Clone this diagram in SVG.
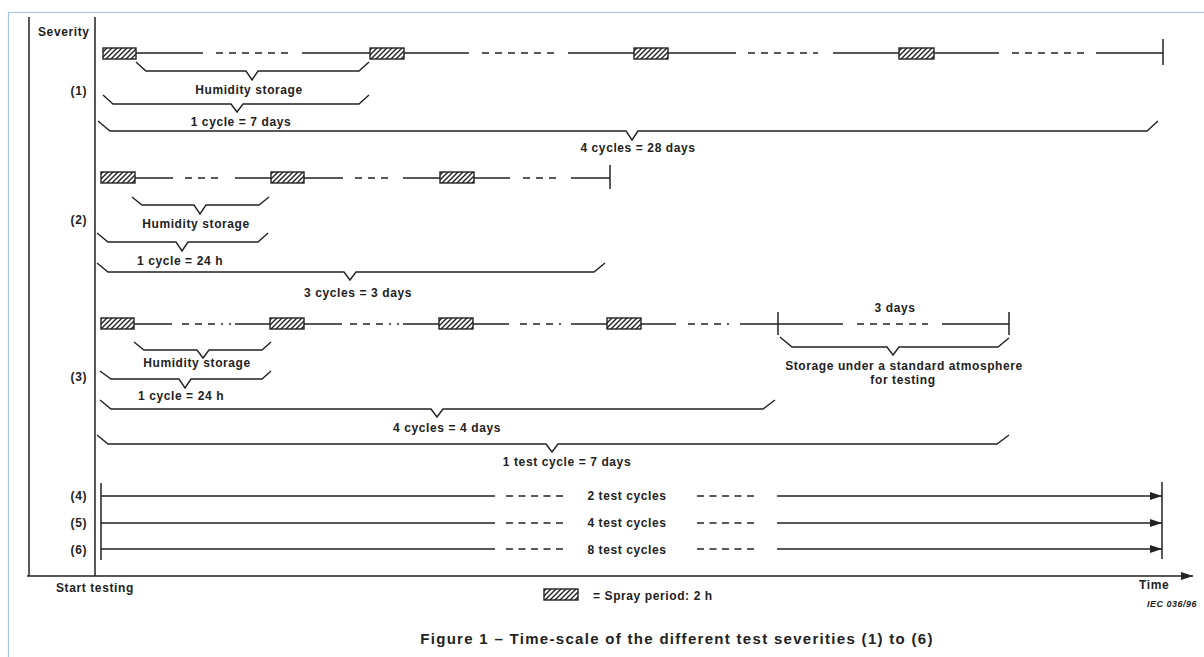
<svg xmlns="http://www.w3.org/2000/svg" width="1204" height="657" viewBox="0 0 1204 657">
<style>
.ln{stroke:#222;stroke-width:1.5;fill:none}
.ds{stroke-dasharray:7 6}
.ds5{stroke-dasharray:7 5.5}
.br{stroke:#222;stroke-width:1.4;fill:none;stroke-linejoin:miter}
.box{fill:url(#hatch);stroke:#222;stroke-width:1.4}
.t{font-family:"Liberation Sans",Arial,sans-serif;font-size:12px;font-weight:bold;fill:#222;letter-spacing:0.6px}
.m{text-anchor:middle}
.e{text-anchor:end}
</style>
<defs>
<pattern id="hatch" patternUnits="userSpaceOnUse" width="5" height="5">
<rect width="5" height="5" fill="#fff"/>
<path d="M-1,1 L1,-1 M0,5 L5,0 M4,6 L6,4" stroke="#222" stroke-width="1.4"/>
</pattern>
<marker id="arr" markerUnits="userSpaceOnUse" markerWidth="13" markerHeight="8" refX="12" refY="4" orient="auto">
<path d="M0,0 L12,4 L0,8 Z" fill="#222"/>
</marker>
</defs>
<rect x="8.5" y="12.5" width="1200" height="660" fill="#fff" stroke="#a9c3e6" stroke-width="1.2"/>

<g id="axes">
<line class="ln" x1="29" y1="17" x2="29" y2="576"/>
<line class="ln" x1="95" y1="17" x2="95" y2="576"/>
<line class="ln" x1="27" y1="576" x2="1193" y2="576" marker-end="url(#arr)"/>
<text class="t" x="38" y="36">Severity</text>
<text class="t" x="56" y="592">Start testing</text>
<text class="t" x="1139" y="589">Time</text>
<text class="t" x="1147" y="607" style="font-size:9px;font-style:italic;letter-spacing:0.5px">IEC 036/96</text>
</g>

<g id="severity-1">
<text class="t e" x="87" y="95">(1)</text>
<g class="connectors">
<path class="ln" d="M136,53 H203 M302,53 H370 M404,53 H469 M568,53 H634 M668,53 H736 M833,53 H899 M934,53 H999 M1096,53 H1163"/>
<path class="ln ds" d="M216,53 H288 M482,53 H554 M748,53 H818 M1012,53 H1084"/>
<line class="ln" x1="1163" y1="39" x2="1163" y2="65"/>
</g>
<rect class="box" x="103" y="48" width="33" height="11"/>
<rect class="box" x="370" y="48" width="34" height="11"/>
<rect class="box" x="634" y="48" width="34" height="11"/>
<rect class="box" x="899" y="48" width="35" height="11"/>
<path class="br" d="M136,62 L146,71 H246 L252,80 L258,71 H359 L369,62"/>
<text class="t m" x="249" y="94">Humidity storage</text>
<path class="br" d="M103,95 L113,104 H231 L237,112 L243,104 H359 L369,95"/>
<text class="t m" x="241" y="126">1 cycle = 7 days</text>
<path class="br" d="M98,121 L110,131 H626 L632,140 L638,131 H1147 L1158,121"/>
<text class="t m" x="638" y="152">4 cycles = 28 days</text>
</g>

<g id="severity-2">
<text class="t e" x="87" y="224">(2)</text>
<g class="connectors">
<path class="ln" d="M135,178 H173 M235,178 H271 M304,178 H343 M403,178 H440 M474,178 H510 M571,178 H610"/>
<path class="ln ds" d="M185,178 H218 M355,178 H388 M523,178 H557"/>
<line class="ln" x1="610" y1="165" x2="610" y2="189"/>
</g>
<rect class="box" x="101" y="172" width="34" height="11"/>
<rect class="box" x="271" y="172" width="33" height="11"/>
<rect class="box" x="440" y="172" width="34" height="11"/>
<path class="br" d="M132,197 L142,205 H194 L200,214 L206,205 H259 L269,197"/>
<text class="t m" x="196" y="228">Humidity storage</text>
<path class="br" d="M97,233 L108,242 H176 L182,251 L188,242 H258 L268,233"/>
<text class="t m" x="180" y="265">1 cycle = 24 h</text>
<path class="br" d="M97,263 L108,272 H344 L350,280 L356,272 H594 L605,263"/>
<text class="t m" x="358" y="297">3 cycles = 3 days</text>
</g>

<g id="severity-3">
<text class="t e" x="87" y="381">(3)</text>
<g class="connectors">
<path class="ln" d="M134,324 H172 M235,324 H270 M304,324 H342 M403,324 H439 M473,324 H509 M571,324 H607 M641,324 H676 M740,324 H843 M942,324 H1009"/>
<path class="ln" style="stroke-dasharray:7 6 7 6 7 6 2 6" d="M182,324 H231 M350,324 H399 M520,324 H566 M688,324 H734"/>
<path class="ln ds" d="M857,324 H928"/>
<line class="ln" x1="778" y1="312" x2="778" y2="335"/>
<line class="ln" x1="1009" y1="312" x2="1009" y2="335"/>
</g>
<rect class="box" x="101" y="318" width="33" height="11"/>
<rect class="box" x="270" y="318" width="34" height="11"/>
<rect class="box" x="439" y="318" width="34" height="11"/>
<rect class="box" x="607" y="318" width="34" height="11"/>
<text class="t m" x="895" y="312">3 days</text>
<path class="br" d="M780,337 L792,347 H887 L893,355 L899,347 H998 L1009,338"/>
<text class="t m" x="904" y="370">Storage under a standard atmosphere</text>
<text class="t m" x="903" y="384">for testing</text>
<path class="br" d="M134,342 L144,350 H197 L203,358 L209,350 H262 L271,342"/>
<text class="t m" x="197" y="367">Humidity storage</text>
<path class="br" d="M100,371 L111,379 H179 L185,388 L191,379 H262 L271,371"/>
<text class="t m" x="181" y="400">1 cycle = 24 h</text>
<path class="br" d="M100,400 L111,409 H431 L437,417 L443,409 H763 L775,400"/>
<text class="t m" x="447" y="432">4 cycles = 4 days</text>
<path class="br" d="M97,435 L108,444 H546 L552,452 L558,444 H997 L1009,435"/>
<text class="t m" x="567" y="466">1 test cycle = 7 days</text>
</g>

<g id="severity-4-6">
<line class="ln" x1="101" y1="483" x2="101" y2="560"/>
<line class="ln" x1="1162" y1="482" x2="1162" y2="559"/>
<g id="severity-4">
<text class="t e" x="87" y="500">(4)</text>
<line class="ln" x1="101" y1="496" x2="495" y2="496"/>
<line class="ln ds5" x1="506" y1="496" x2="563" y2="496"/>
<text class="t m" x="627" y="500">2 test cycles</text>
<line class="ln ds5" x1="697" y1="496" x2="754" y2="496"/>
<line class="ln" x1="777" y1="496" x2="1162" y2="496" marker-end="url(#arr)"/>
</g>
<g id="severity-5">
<text class="t e" x="87" y="527">(5)</text>
<line class="ln" x1="101" y1="523" x2="495" y2="523"/>
<line class="ln ds5" x1="506" y1="523" x2="563" y2="523"/>
<text class="t m" x="627" y="527">4 test cycles</text>
<line class="ln ds5" x1="697" y1="523" x2="754" y2="523"/>
<line class="ln" x1="777" y1="523" x2="1162" y2="523" marker-end="url(#arr)"/>
</g>
<g id="severity-6">
<text class="t e" x="87" y="554">(6)</text>
<line class="ln" x1="101" y1="549" x2="495" y2="549"/>
<line class="ln ds5" x1="506" y1="549" x2="563" y2="549"/>
<text class="t m" x="627" y="554">8 test cycles</text>
<line class="ln ds5" x1="697" y1="549" x2="754" y2="549"/>
<line class="ln" x1="777" y1="549" x2="1162" y2="549" marker-end="url(#arr)"/>
</g>
</g>

<g id="legend">
<rect class="box" x="544" y="589" width="34" height="11"/>
<text class="t" x="593" y="600">= Spray period: 2 h</text>
</g>
<g id="caption">
<text class="t m" x="677" y="644" style="font-size:15px;letter-spacing:1.3px">Figure 1 – Time-scale of the different test severities (1) to (6)</text>
</g>
</svg>
